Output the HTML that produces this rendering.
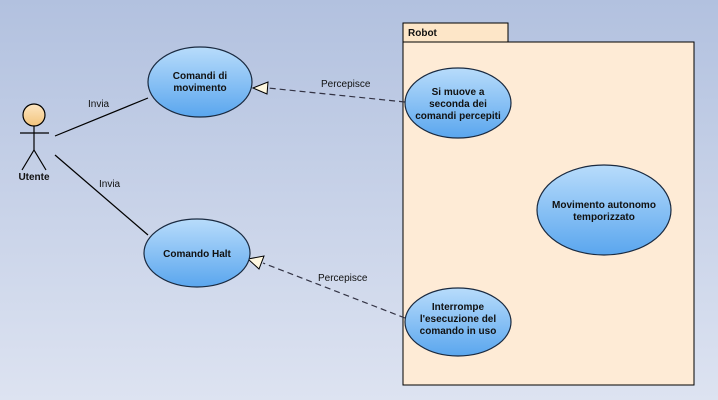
<!DOCTYPE html>
<html><head><style>body{margin:0}svg{display:block}text{font-family:"Liberation Sans",sans-serif;font-size:10px;fill:#111}</style></head><body>
<svg width="718" height="400" xmlns="http://www.w3.org/2000/svg">
<defs>
<linearGradient id="bg" x1="0" y1="0" x2="0" y2="1"><stop offset="0" stop-color="#b2c1df"/><stop offset="1" stop-color="#dde3f1"/></linearGradient>
<linearGradient id="el" x1="0" y1="0" x2="0" y2="1"><stop offset="0" stop-color="#b8dcfb"/><stop offset="1" stop-color="#5aa6ee"/></linearGradient>
<linearGradient id="hd" x1="0" y1="0" x2="0" y2="1"><stop offset="0" stop-color="#fde6c2"/><stop offset="1" stop-color="#f2c47c"/></linearGradient>
</defs>
<rect width="718" height="400" fill="url(#bg)"/>
<rect x="403" y="23" width="105" height="19" fill="#fde6c8" stroke="#000"/>
<text x="408" y="36" font-weight="bold">Robot</text>
<rect x="403" y="42" width="291" height="343" fill="#feebd6" stroke="#000"/>
<g stroke="#000" fill="none" stroke-width="1.2">
<circle cx="34" cy="115" r="11" fill="url(#hd)"/>
<line x1="20" y1="133" x2="49" y2="133"/><line x1="34" y1="126" x2="34" y2="150"/>
<polyline points="22,170 34,150 46,170"/>
<line x1="55" y1="136" x2="148" y2="98"/><line x1="55" y1="155" x2="148" y2="235"/>
<line x1="405" y1="102" x2="268" y2="88" stroke-dasharray="6,4" stroke="#334"/>
<line x1="405" y1="318" x2="263" y2="263" stroke-dasharray="6,4" stroke="#334"/>
</g>
<polygon points="253,88 268,82 267,94" fill="#fff8e0" stroke="#000"/>
<polygon points="248,259 264,256 259,269" fill="#fff8e0" stroke="#000"/>
<g stroke="#1a2a40" stroke-width="1.2" fill="url(#el)">
<ellipse cx="200" cy="82" rx="52" ry="35"/>
<ellipse cx="458" cy="103" rx="53" ry="35"/>
<ellipse cx="604" cy="210" rx="67" ry="45"/>
<ellipse cx="197" cy="253" rx="53" ry="34"/>
<ellipse cx="458" cy="322" rx="53" ry="34"/>
</g>
<g text-anchor="middle" font-weight="bold">
<text x="200" y="79" font-weight="bold">Comandi di</text><text x="200" y="91" font-weight="bold">movimento</text>
<text x="458" y="95" font-weight="bold">Si muove a</text><text x="458" y="107" font-weight="bold">seconda dei</text><text x="458" y="119" font-weight="bold">comandi percepiti</text>
<text x="604" y="208" font-weight="bold">Movimento autonomo</text><text x="604" y="220" font-weight="bold">temporizzato</text>
<text x="197" y="257" font-weight="bold">Comando Halt</text>
<text x="458" y="310" font-weight="bold">Interrompe</text><text x="458" y="322" font-weight="bold">l'esecuzione del</text><text x="458" y="334" font-weight="bold">comando in uso</text>
<text x="34" y="180" font-weight="bold">Utente</text>
</g>
<text x="88" y="107">Invia</text><text x="99" y="187">Invia</text>
<text x="321" y="87">Percepisce</text><text x="318" y="281">Percepisce</text>
</svg>
</body></html>
